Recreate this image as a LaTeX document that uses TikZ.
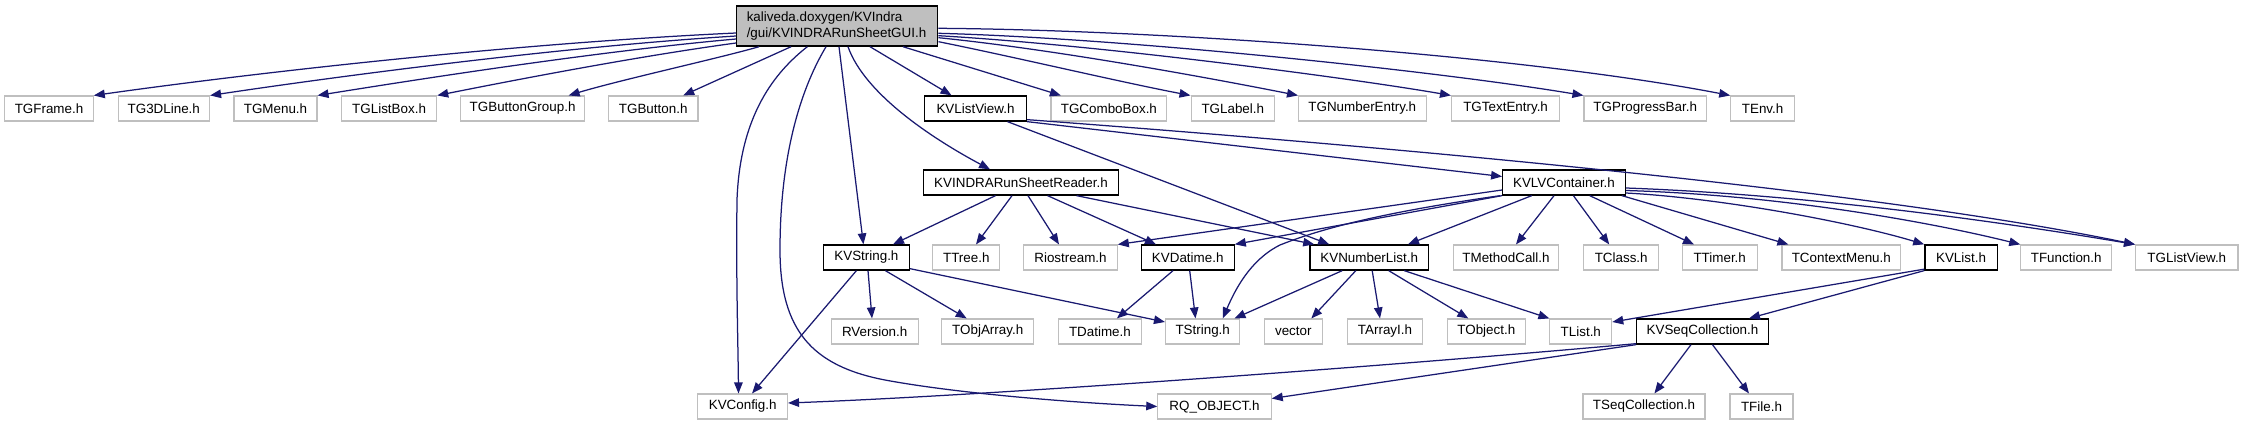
\documentclass[tikz,border=0pt]{standalone}
\usepackage{fontspec}
\setmainfont{Liberation Sans}
\usetikzlibrary{calc,arrows.meta}
\definecolor{greyseventyfive}{HTML}{BFBFBF}
\definecolor{edgeblue}{HTML}{191970}
\begin{document}
\begin{tikzpicture}[x=1pt,y=-1pt,
  font=\fontsize{13.4}{16}\selectfont,
  box/.style={rectangle, inner sep=0pt, minimum height=25pt, anchor=center},
  ext/.style={box, draw=greyseventyfive, line width=1.1pt},
  doc/.style={box, draw=black, line width=1.3pt},
  edge/.style={draw=edgeblue, line width=1.25pt, -{Triangle[length=11pt,width=8.5pt]}},
]
\useasboundingbox (0,0) rectangle (2243,425);

% row 1
\node[box, draw=black, fill=greyseventyfive, line width=1.4pt, minimum height=40pt,
      text width=181pt, inner xsep=10pt, align=left] (main) at (837.25,26)
      {kaliveda.doxygen/KVIndra\\/gui/KVINDRARunSheetGUI.h};

% row 2
\node[ext, minimum width=88.5pt]  (TGFrame)       at (49,108.5)     {TGFrame.h};
\node[ext, minimum width=91.5pt]  (TGDLine)       at (163.8,108.5)  {TG3DLine.h};
\node[ext, minimum width=83pt]    (TGMenu)        at (275.5,108.5)  {TGMenu.h};
\node[ext, minimum width=95.2pt]  (TGListBox)     at (389.1,108.5)  {TGListBox.h};
\node[ext, minimum width=124pt]   (TGButtonGroup) at (522.6,108.5)  {TGButtonGroup.h};
\node[ext, minimum width=89.5pt]  (TGButton)      at (653.2,108.5)  {TGButton.h};
\node[doc, minimum width=102pt]   (KVListView)    at (975.5,108.5)  {KVListView.h};
\node[ext, minimum width=115.8pt] (TGComboBox)    at (1108.9,108.5) {TGComboBox.h};
\node[ext, minimum width=83.5pt]  (TGLabel)       at (1232.8,108.5) {TGLabel.h};
\node[ext, minimum width=127.5pt] (TGNumberEntry) at (1362.3,108.5) {TGNumberEntry.h};
\node[ext, minimum width=108.2pt] (TGTextEntry)   at (1505.6,108.5) {TGTextEntry.h};
\node[ext, minimum width=122.4pt] (TGProgressBar) at (1645.2,108.5) {TGProgressBar.h};
\node[ext, minimum width=63.7pt]  (TEnv)          at (1762.6,108.5) {TEnv.h};

% row 3
\node[doc, minimum width=194.8pt] (Reader)        at (1021,182.5)   {KVINDRARunSheetReader.h};
\node[doc, minimum width=122.5pt] (KVLVContainer) at (1564,182.5)   {KVLVContainer.h};

% row 4
\node[doc, minimum width=85.8pt]  (KVString)      at (866.4,257.5)  {KVString.h};
\node[ext, minimum width=66.8pt]  (TTree)         at (966.3,257.5)  {TTree.h};
\node[ext, minimum width=93.5pt]  (Riostream)     at (1070.5,257.5) {Riostream.h};
\node[doc, minimum width=92.9pt]  (KVDatime)      at (1187.7,257.5) {KVDatime.h};
\node[doc, minimum width=118.6pt] (KVNumberList)  at (1369.2,257.5) {KVNumberList.h};
\node[ext, minimum width=105.5pt] (TMethodCall)   at (1506,257.5)   {TMethodCall.h};
\node[ext, minimum width=74.6pt]  (TClass)        at (1621.2,257.5) {TClass.h};
\node[ext, minimum width=74.7pt]  (TTimer)        at (1719.7,257.5) {TTimer.h};
\node[ext, minimum width=118.7pt] (TContextMenu)  at (1841.3,257.5) {TContextMenu.h};
\node[doc, minimum width=72.3pt]  (KVList)        at (1961,257.5)   {KVList.h};
\node[ext, minimum width=90.8pt]  (TFunction)     at (2066.2,257.5) {TFunction.h};
\node[ext, minimum width=102.4pt] (TGListView)    at (2186.8,257.5) {TGListView.h};

% row 5
\node[ext, minimum width=87pt]    (RVersion)        at (874.7,331.5)  {RVersion.h};
\node[ext, minimum width=92pt]    (TObjArray)       at (987.7,331.5)  {TObjArray.h};
\node[ext, minimum width=82.7pt]  (TDatime)         at (1099.9,331.5) {TDatime.h};
\node[ext, minimum width=74.4pt]  (TString)         at (1202.7,331.5) {TString.h};
\node[ext, minimum width=57.9pt]  (nvector)         at (1293.3,331.5) {vector};
\node[ext, minimum width=75.4pt]  (TArrayI)         at (1385,331.5)   {TArrayI.h};
\node[ext, minimum width=77.7pt]  (TObject)         at (1486.3,331.5) {TObject.h};
\node[ext, minimum width=61.8pt]  (TList)           at (1580.8,331.5) {TList.h};
\node[doc, minimum width=131.5pt] (KVSeqCollection) at (1702.5,331.5) {KVSeqCollection.h};

% row 6
\node[ext, minimum width=89.6pt]  (KVConfig)        at (742.7,406.5)  {KVConfig.h};
\node[ext, minimum width=113.4pt] (RQOBJECT)        at (1214.5,406.5) {RQ\_OBJECT.h};
\node[ext, minimum width=122pt]   (TSeqCollection)  at (1644,406.5)   {TSeqCollection.h};
\node[ext, minimum width=63pt]    (TFile)           at (1761.5,406.5) {TFile.h};

% ---- edges from main
\draw[edge] ($(main.west)+(0,7)$) .. controls (520,43) and (260,72) .. (TGFrame.north east);
\draw[edge] ($(main.west)+(0,10)$) .. controls (560,47) and (340,76) .. (TGDLine.north east);
\draw[edge] ($(main.west)+(0,13)$) .. controls (600,51) and (420,79) .. (TGMenu.north east);
\draw[edge] ($(main.west)+(0,17)$) .. controls (640,56) and (520,79) .. (TGListBox.north east);
\draw[edge] ($(main.south west)+(23,0)$) .. controls (720,58) and (620,80) .. ($(TGButtonGroup.north)+(46,0)$);
\draw[edge] ($(main.south west)+(55,0)$) -- ($(TGButton.north)+(30,0)$);
\draw[edge] ($(main.south west)+(71.3,0)$) .. controls (775,72) and (740,115) .. (737,200)
            .. controls (736,280) and (738,340) .. ($(KVConfig.north)+(-4.2,0)$);
\draw[edge] ($(main.south west)+(90,0)$) .. controls (803,85) and (780,150) .. (780,250)
            .. controls (780,330) and (812,366) .. (885,380)
            .. controls (960,394) and (1080,403) .. (RQOBJECT.west);
\draw[edge] ($(main.south)+(1.75,0)$) -- ($(KVString.north)+(-3,0)$);
\draw[edge] ($(main.south)+(10.75,0)$) .. controls (865,95) and (935,140) .. ($(Reader.north)+(-31,0)$);
\draw[edge] ($(main.south)+(32.75,0)$) -- ($(KVListView.north)+(-24,0)$);
\draw[edge] ($(main.south)+(65.75,0)$) -- ($(TGComboBox.north)+(-48,0)$);
\draw[edge] ($(main.east)+(0,15.7)$) .. controls (1010,56) and (1120,82) .. (TGLabel.north west);
\draw[edge] ($(main.east)+(0,11.7)$) .. controls (1060,50) and (1220,80) .. (TGNumberEntry.north west);
\draw[edge] ($(main.east)+(0,9.7)$) .. controls (1100,45) and (1350,78) .. (TGTextEntry.north west);
\draw[edge] ($(main.east)+(0,7.3)$) .. controls (1120,38) and (1430,70) .. (TGProgressBar.north west);
\draw[edge] ($(main.east)+(0,2.3)$) .. controls (1160,30) and (1520,55) .. (TEnv.north west);

% ---- KVListView
\draw[edge] (KVListView.south east) -- ($(KVLVContainer.west)+(0,-6)$);
\draw[edge] ($(KVListView.south east)+(0,-2)$) .. controls (1300,140) and (1850,185) .. (TGListView.north west);
\draw[edge] ($(KVListView.south)+(32,0)$) -- ($(KVNumberList.north)+(-40,0)$);

% ---- KVINDRARunSheetReader
\draw[edge] ($(Reader.south)+(-25.5,0)$) -- ($(KVString.north)+(26.6,0)$);
\draw[edge] ($(Reader.south)+(-9,0)$) -- ($(TTree.north)+(9.7,0)$);
\draw[edge] ($(Reader.south)+(7,0)$) -- ($(Riostream.north)+(-11.5,0)$);
\draw[edge] ($(Reader.south)+(26.6,0)$) -- ($(KVDatime.north)+(-31.7,0)$);
\draw[edge] ($(Reader.south)+(55.6,0)$) -- ($(KVNumberList.north)+(-55,0)$);

% ---- KVLVContainer
\draw[edge] ($(KVLVContainer.west)+(0,7.5)$) -- (Riostream.north east);
\draw[edge] (KVLVContainer.south west) -- (KVDatime.north east);
\draw[edge] ($(KVLVContainer.south west)+(-2,0)$) .. controls (1400,210) and (1330,225) .. (1280,245)
            .. controls (1250,260) and (1235,290) .. ($(TString.north)+(20,0)$);
\draw[edge] ($(KVLVContainer.south)+(-32.3,0)$) -- ($(KVNumberList.north)+(38.8,0)$);
\draw[edge] ($(KVLVContainer.south)+(-10,0)$) -- ($(TMethodCall.north)+(10,0)$);
\draw[edge] ($(KVLVContainer.south)+(9.4,0)$) -- ($(TClass.north)+(-12,0)$);
\draw[edge] ($(KVLVContainer.south)+(25.7,0)$) -- ($(TTimer.north)+(-25.7,0)$);
\draw[edge] ($(KVLVContainer.south east)+(-4,0)$) -- ($(TContextMenu.north west)+(7,0)$);
\draw[edge] ($(KVLVContainer.east)+(0,10.5)$) .. controls (1720,198) and (1850,222) .. (KVList.north west);
\draw[edge] ($(KVLVContainer.east)+(0,8)$) .. controls (1780,195) and (1930,222) .. (TFunction.north west);
\draw[edge] ($(KVLVContainer.east)+(0,5.5)$) .. controls (1820,195) and (2020,225) .. (TGListView.north west);

% ---- KVString
\draw[edge] ($(KVString.south)+(1.6,0)$) -- ($(RVersion.north)+(-2.7,0)$);
\draw[edge] ($(KVString.south)+(19,0)$) -- ($(TObjArray.north)+(-21,0)$);
\draw[edge] ($(KVString.south east)+(0,-2)$) -- ($(TString.west)+(0,-9.5)$);
\draw[edge] ($(KVString.south)+(-10,0)$) -- ($(KVConfig.north)+(9.3,0)$);

% ---- KVDatime
\draw[edge] ($(KVDatime.south)+(-14.7,0)$) -- ($(TDatime.north)+(17,0)$);
\draw[edge] ($(KVDatime.south)+(2,0)$) -- ($(TString.north)+(-7.2,0)$);

% ---- KVNumberList
\draw[edge] ($(KVNumberList.south)+(-27,0)$) -- ($(TString.north east)+(-6,0)$);
\draw[edge] ($(KVNumberList.south)+(-13.4,0)$) -- ($(nvector.north)+(18,0)$);
\draw[edge] ($(KVNumberList.south)+(3,0)$) -- ($(TArrayI.north)+(-5,0)$);
\draw[edge] ($(KVNumberList.south)+(19.5,0)$) -- ($(TObject.north)+(-18,0)$);
\draw[edge] ($(KVNumberList.south)+(35,0)$) -- (TList.north west);

% ---- KVList
\draw[edge] ($(KVList.south west)+(0,-1.5)$) -- ($(TList.east)+(0,-9.5)$);
\draw[edge] (KVList.south west) -- ($(KVSeqCollection.north)+(46.5,0)$);

% ---- KVSeqCollection
\draw[edge] ($(KVSeqCollection.south)+(-11.5,0)$) -- ($(TSeqCollection.north)+(10.4,0)$);
\draw[edge] ($(KVSeqCollection.south)+(10,0)$) -- ($(TFile.north)+(-12.5,0)$);
\draw[edge] ($(KVSeqCollection.south west)+(0,-1)$) .. controls (1400,365) and (1000,395) .. ($(KVConfig.east)+(0,-3.5)$);
\draw[edge] (KVSeqCollection.south west) -- ($(RQOBJECT.east)+(0,-8)$);
\end{tikzpicture}
\end{document}
